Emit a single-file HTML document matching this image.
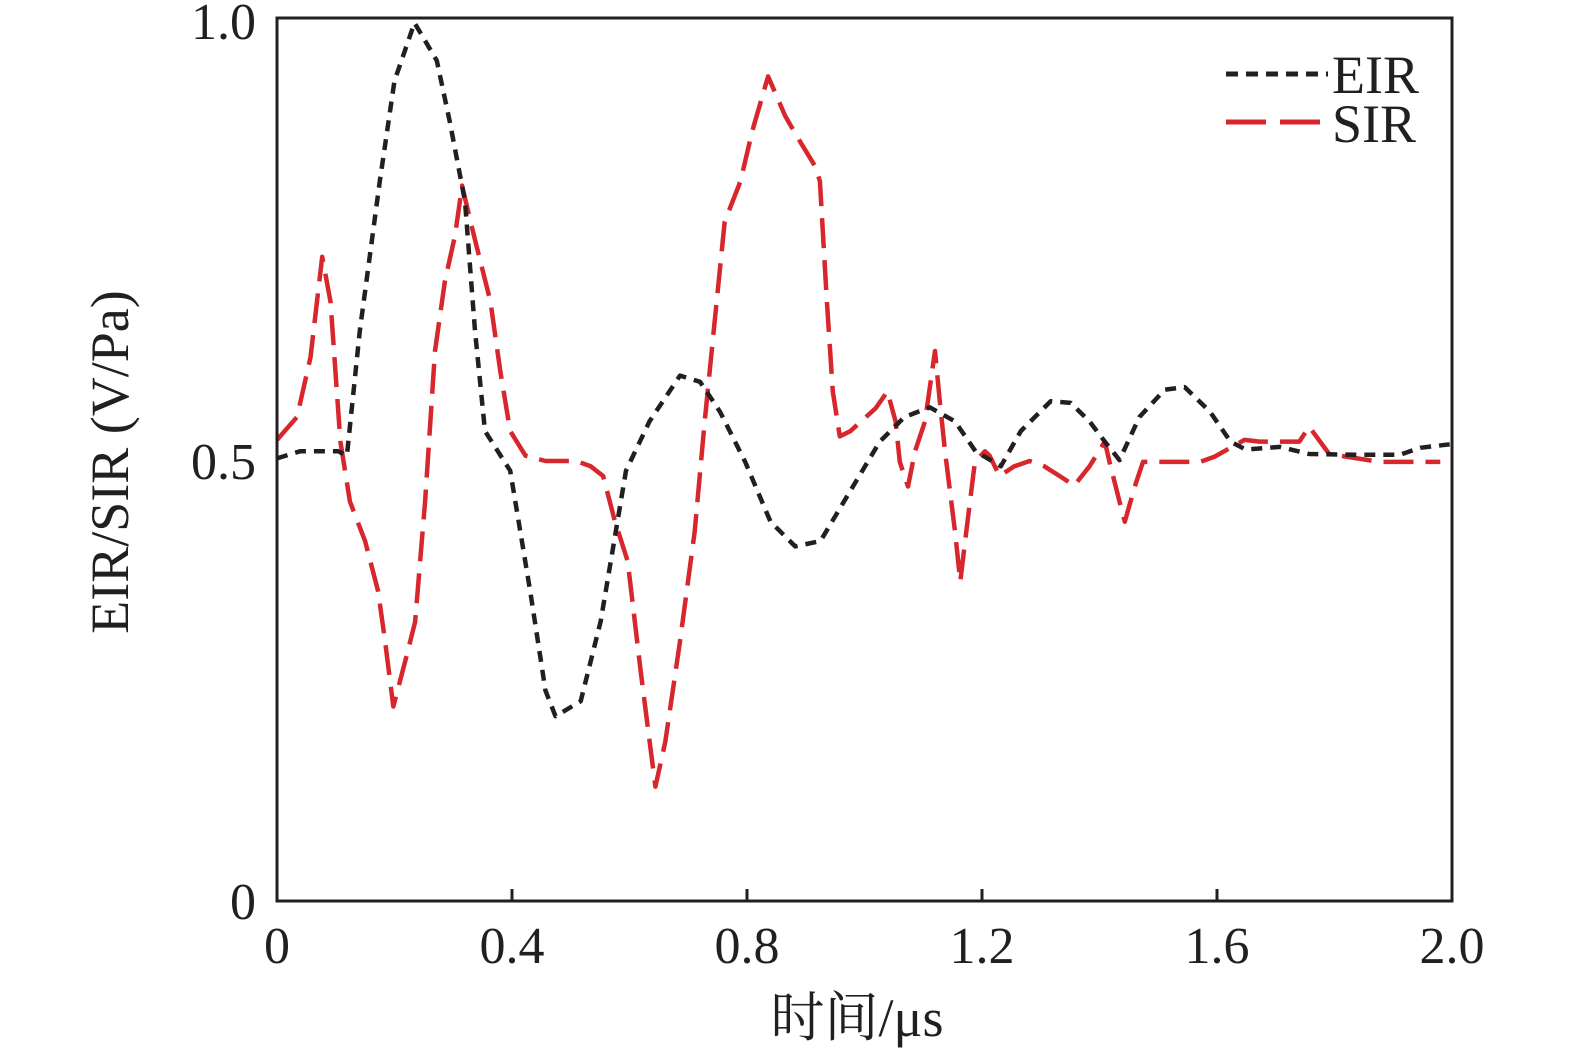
<!DOCTYPE html>
<html><head><meta charset="utf-8"><style>
body{margin:0;background:#fff;}
svg{display:block;}
text{font-family:"Liberation Serif","Noto Serif CJK SC",serif;fill:#231f20;}
</style></head><body>
<svg id="chart" width="1575" height="1059" viewBox="0 0 1575 1059">
<g id="series"></g>
<rect x="277" y="18" width="1175" height="883" fill="none" stroke="#231f20" stroke-width="3"/>
<g id="ticks"></g>
<g id="ylabels"></g>
<text x="857" y="1036" font-size="54" text-anchor="middle">时间/μs</text>
<text transform="translate(128,462) rotate(-90)" font-size="54" text-anchor="middle">EIR/SIR (V/Pa)</text>
<g>
<line x1="1226" y1="74" x2="1328" y2="74" stroke="#231f20" stroke-width="5" stroke-dasharray="12,8"/>
<text x="1332" y="93" font-size="54">EIR</text>
<line x1="1226" y1="122" x2="1328" y2="122" stroke="#d8262d" stroke-width="5" stroke-dasharray="40,14"/>
<text x="1332" y="142" font-size="54">SIR</text>
</g>
</svg>
<script>
const xTicks=[0,0.4,0.8,1.2,1.6,2.0];
const xTickLabels=["0","0.4","0.8","1.2","1.6","2.0"];
const yTicks=[0,0.5,1.0];
const yTickLabels=["0","0.5","1.0"];
const eirT=[0,0.039,0.104,0.119,0.141,0.175,0.2,0.234,0.272,0.294,0.32,0.337,0.354,0.397,0.431,0.457,0.474,0.517,0.551,0.594,0.634,0.686,0.72,0.754,0.797,0.84,0.882,0.925,0.975,1.026,1.068,1.111,1.154,1.189,1.232,1.266,1.317,1.351,1.383,1.409,1.434,1.468,1.511,1.545,1.588,1.623,1.649,1.707,1.757,1.843,1.911,1.946,1.996];
const eirV=[0.503,0.511,0.511,0.506,0.648,0.818,0.932,0.998,0.955,0.886,0.795,0.648,0.534,0.489,0.352,0.239,0.21,0.227,0.318,0.489,0.545,0.597,0.59,0.556,0.499,0.431,0.403,0.409,0.465,0.522,0.55,0.561,0.545,0.511,0.494,0.534,0.568,0.566,0.545,0.522,0.501,0.55,0.581,0.584,0.556,0.522,0.513,0.516,0.508,0.507,0.507,0.515,0.519];
const sirT=[0,0.034,0.057,0.077,0.091,0.108,0.124,0.15,0.172,0.184,0.198,0.218,0.235,0.252,0.269,0.286,0.303,0.315,0.329,0.346,0.363,0.38,0.397,0.423,0.457,0.483,0.509,0.534,0.555,0.575,0.597,0.619,0.632,0.644,0.661,0.686,0.711,0.728,0.745,0.762,0.789,0.809,0.836,0.865,0.885,0.916,0.924,0.936,0.946,0.958,0.976,1.019,1.039,1.053,1.06,1.074,1.086,1.103,1.12,1.128,1.137,1.154,1.163,1.171,1.188,1.205,1.213,1.23,1.255,1.281,1.306,1.332,1.357,1.383,1.409,1.417,1.434,1.443,1.46,1.474,1.502,1.571,1.596,1.647,1.672,1.74,1.757,1.791,1.877,1.98];
const sirV=[0.524,0.55,0.618,0.732,0.681,0.522,0.454,0.409,0.352,0.295,0.221,0.272,0.317,0.454,0.625,0.705,0.756,0.813,0.773,0.727,0.682,0.602,0.534,0.506,0.5,0.5,0.5,0.494,0.483,0.432,0.386,0.261,0.193,0.13,0.181,0.295,0.42,0.545,0.659,0.772,0.818,0.875,0.937,0.892,0.869,0.835,0.818,0.681,0.579,0.528,0.534,0.56,0.579,0.545,0.499,0.471,0.511,0.545,0.625,0.569,0.511,0.42,0.363,0.408,0.499,0.511,0.506,0.483,0.494,0.5,0.494,0.483,0.472,0.494,0.522,0.499,0.454,0.431,0.471,0.499,0.499,0.499,0.505,0.524,0.522,0.522,0.539,0.508,0.499,0.499];
const X0=277,XS=587.5,Y0=901,YS=880;
const xs=t=>X0+t*XS, ys=v=>Y0-v*YS;
const NS="http://www.w3.org/2000/svg";
const sg=document.getElementById('series');
function line(T,V,color,dash,name){
  const p=document.createElementNS(NS,'polyline');
  p.setAttribute('points',T.map((t,i)=>xs(t).toFixed(1)+','+ys(V[i]).toFixed(1)).join(' '));
  p.setAttribute('fill','none');p.setAttribute('stroke',color);p.setAttribute('stroke-width','4.5');
  p.setAttribute('stroke-dasharray',dash);p.setAttribute('stroke-linejoin','round');
  
  
  sg.appendChild(p);
}
line(sirT,sirV,'#d8262d','30,12','sir-line');
line(eirT,eirV,'#231f20','11,8','eir-line');
const tg=document.getElementById('ticks');
xTicks.forEach((t,i)=>{
  if(i>0&&i<xTicks.length-1){
    const l=document.createElementNS(NS,'line');
    l.setAttribute('x1',xs(t));l.setAttribute('x2',xs(t));l.setAttribute('y1',Y0);l.setAttribute('y2',Y0-12);
    l.setAttribute('stroke','#231f20');l.setAttribute('stroke-width','3');
    
    
    tg.appendChild(l);
  }
  const tx=document.createElementNS(NS,'text');
  tx.setAttribute('x',xs(t));tx.setAttribute('y',963);tx.setAttribute('font-size','52');tx.setAttribute('text-anchor','middle');
  tx.textContent=xTickLabels[i];
  
  
  tg.appendChild(tx);
});
const yg=document.getElementById('ylabels');
yTicks.forEach((v,i)=>{
  const tx=document.createElementNS(NS,'text');
  tx.setAttribute('x',256);tx.setAttribute('y',ys(v)+18);tx.setAttribute('font-size','52');tx.setAttribute('text-anchor','end');
  tx.textContent=yTickLabels[i];
  
  
  yg.appendChild(tx);
});
</script>
</body></html>
